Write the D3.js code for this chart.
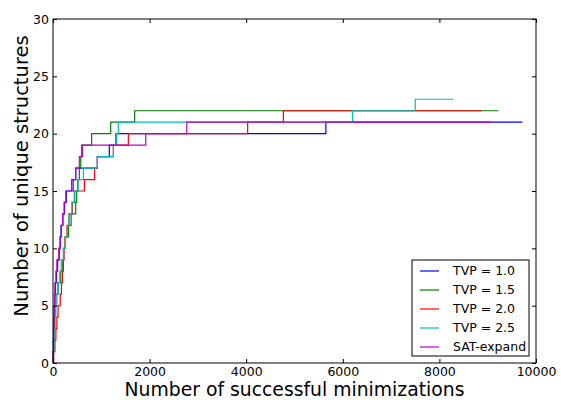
<!DOCTYPE html>
<html><head><meta charset="utf-8">
<script src="https://cdn.jsdelivr.net/npm/d3@7"></script>
<style>body{margin:0;background:#fff}svg{display:block}text{font-family:"DejaVu Sans",sans-serif;fill:#000}</style>
</head><body><svg id="c" width="561" height="400"></svg>
<script>
// x position (number of successful minimizations) at which each new unique structure (1,2,3,...) was found
const tvp10 = [5,10,15,20,25,35,50,70,95,130,150,165,205,238,275,390,470,918,1166,1304,5650];
const tvp15 = [5,15,20,30,45,60,100,160,190,215,250,320,375,470,490,510,545,575,595,800,1195,1690];
const tvp20 = [15,40,60,80,105,150,175,195,215,230,255,290,330,400,450,650,860,920,1250,1560,4030,4770];
const tvp25 = [10,20,30,45,60,80,110,140,170,220,260,300,330,390,440,520,630,920,1250,1320,1352,6200,7500];
const satExpand = [5,10,15,20,25,30,40,60,80,120,145,175,200,230,265,420,470,545,610,1920,2770];
// total number of minimizations run for each series (end of each curve)
const runEnds = [9720, 9220, 8880, 8290, 9080];
const seriesNames = ["TVP = 1.0","TVP = 1.5","TVP = 2.0","TVP = 2.5","SAT-expand"];
const seriesColors = ["#0000ff","#008000","#ff0000","#00bfbf","#bf00bf"];
const xTicks = [0,2000,4000,6000,8000,10000];
const yTicks = [0,5,10,15,20,25,30];

const allSeries = [tvp10,tvp15,tvp20,tvp25,satExpand];
const svg = d3.select("#c");
const L=53, R=536, T=19, B=363;
const x = d3.scaleLinear().domain([0,10000]).range([L,R]);
const y = d3.scaleLinear().domain([0,30]).range([B,T]);

const line = d3.line().x(d=>x(d[0])).y(d=>y(d[1])).curve(d3.curveStepAfter);
allSeries.forEach((s,i)=>{
  const pts=[[0,0]];
  s.forEach((v,k)=>pts.push([v,k+1]));
  pts.push([runEnds[i], s.length]);
  svg.append("path").attr("d",line(pts)).attr("fill","none")
    .attr("stroke",seriesColors[i]).attr("stroke-width",1.2);
});

// frame
svg.append("rect").attr("x",L).attr("y",T).attr("width",R-L).attr("height",B-T)
  .attr("fill","none").attr("stroke","#000").attr("stroke-width",1);

// axes with inside ticks on all four sides
const tl=4;
const gx=svg.append("g").attr("transform",`translate(0,${B})`)
  .call(d3.axisBottom(x).tickValues(xTicks).tickFormat(d3.format("d")).tickSizeInner(-tl).tickSizeOuter(0).tickPadding(4));
const gxt=svg.append("g").attr("transform",`translate(0,${T})`)
  .call(d3.axisTop(x).tickValues(xTicks).tickFormat("").tickSizeInner(-tl).tickSizeOuter(0));
const gy=svg.append("g").attr("transform",`translate(${L},0)`)
  .call(d3.axisLeft(y).tickValues(yTicks).tickSizeInner(-tl).tickSizeOuter(0).tickPadding(4));
const gyr=svg.append("g").attr("transform",`translate(${R},0)`)
  .call(d3.axisRight(y).tickValues(yTicks).tickFormat("").tickSizeInner(-tl).tickSizeOuter(0));
[gx,gxt,gy,gyr].forEach(g=>{g.select(".domain").remove();g.selectAll("line").attr("stroke","#000");
  g.selectAll("text").style("font-family","DejaVu Sans").style("font-size","12.5px").attr("fill","#000");});

svg.append("text").attr("x",(L+R)/2).attr("y",396).attr("text-anchor","middle")
  .style("font-size","18.8px").text("Number of successful minimizations");
svg.append("text").attr("transform",`translate(28,176) rotate(-90)`).attr("text-anchor","middle")
  .style("font-size","19.5px").text("Number of unique structures");

// legend
const lg=svg.append("g");
lg.append("rect").attr("x",412).attr("y",260).attr("width",117).attr("height",96)
  .attr("fill","#fff").attr("stroke","#000").attr("stroke-width",1);
seriesNames.forEach((n,i)=>{
  const yy=271+i*19;
  lg.append("line").attr("x1",420).attr("x2",439).attr("y1",yy).attr("y2",yy)
    .attr("stroke",seriesColors[i]).attr("stroke-width",1.2);
  lg.append("text").attr("x",453).attr("y",yy).attr("dy","0.35em").style("font-size","12.5px").text(n);
});
</script></body></html>
